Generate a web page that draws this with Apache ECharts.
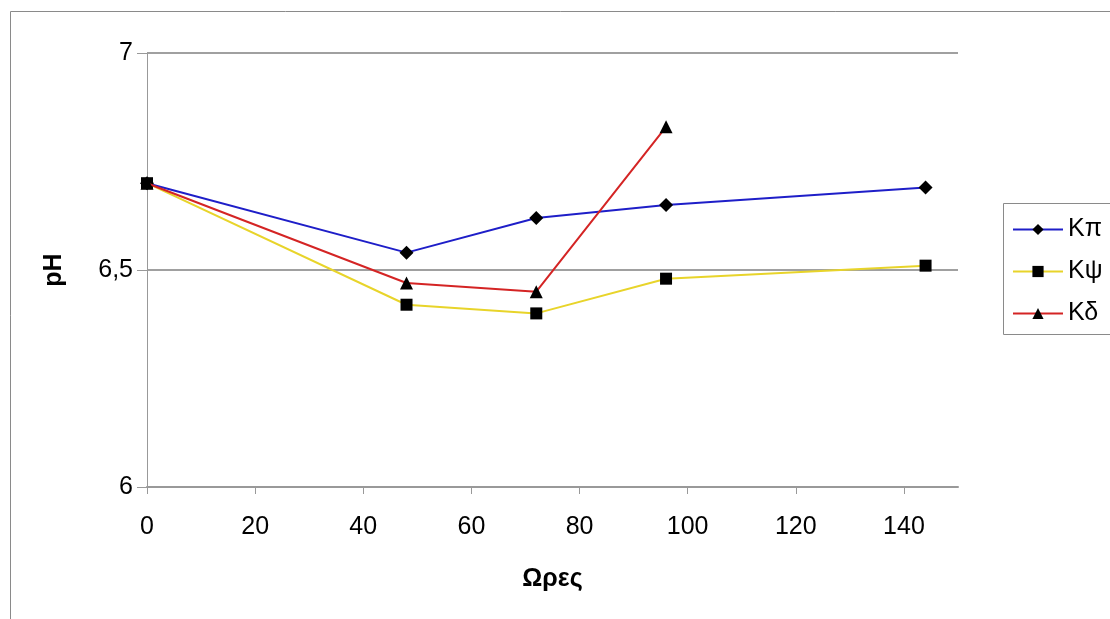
<!DOCTYPE html>
<html>
<head>
<meta charset="utf-8">
<script src="https://cdn.jsdelivr.net/npm/echarts@6/dist/echarts.min.js"></script>
<style>
html,body{margin:0;padding:0;background:#fff;}
#chart{width:1110px;height:619px;}
</style>
</head>
<body>
<div id="chart"></div>
<script>
// Hours (x) and pH values per series
const hours = [0, 48, 72, 96, 144];
const hoursKd = [0, 48, 72, 96];
const seriesNames = ['Κπ', 'Κψ', 'Κδ'];
const kPi = [6.70, 6.54, 6.62, 6.65, 6.69];
const kPsi = [6.70, 6.42, 6.40, 6.48, 6.51];
const kDelta = [6.70, 6.47, 6.45, 6.83];
const xTicks = [0, 20, 40, 60, 80, 100, 120, 140];
const yTicks = ['6', '6,5', '7'];

const pair = (xs, ys) => xs.map((x, i) => [x, ys[i]]);
const font = '"Liberation Sans", Arial, sans-serif';

const chart = echarts.init(document.getElementById('chart'), null, {renderer: 'canvas'});
chart.setOption({
  backgroundColor: '#ffffff',
  animation: false,
  textStyle: {fontFamily: font},
  grid: {left: 147, top: 53, right: 152, bottom: 132, containLabel: false},
  graphic: [
    {type: 'rect', z: -10, shape: {x: 10.5, y: 11.5, width: 1200, height: 700}, style: {fill: 'none', stroke: '#8a8a8a', lineWidth: 1}},
    {type: 'rect', z: -5, shape: {x: 1003.5, y: 203.5, width: 200, height: 131}, style: {fill: '#fff', stroke: '#8a8a8a', lineWidth: 1}}
  ],
  legend: {
    orient: 'vertical',
    left: 1003,
    top: 204,
    padding: [13, 10, 13, 9],
    itemWidth: 50,
    itemHeight: 14,
    itemGap: 17,
    textStyle: {fontSize: 25, color: '#000', fontFamily: font},
    data: seriesNames
  },
  xAxis: {
    type: 'value',
    min: 0, max: 150, interval: 20,
    name: 'Ωρες',
    nameLocation: 'middle',
    nameGap: 80,
    nameTextStyle: {fontSize: 25, fontWeight: 'bold', color: '#000', fontFamily: font},
    axisLine: {show: true, lineStyle: {color: '#999', width: 2}},
    axisTick: {show: true, inside: false, length: 7, customValues: xTicks, lineStyle: {color: '#999', width: 1}},
    axisLabel: {
      fontSize: 25, color: '#000', margin: 28, fontFamily: font,
      customValues: xTicks,
      formatter: v => String(v)
    },
    splitLine: {show: false}
  },
  yAxis: {
    type: 'value',
    min: 6, max: 7, interval: 0.5,
    name: 'pH',
    nameLocation: 'middle',
    nameRotate: 90,
    nameGap: 80,
    nameTextStyle: {fontSize: 25, fontWeight: 'bold', color: '#000', fontFamily: font},
    axisLine: {show: true, lineStyle: {color: '#999', width: 1}},
    axisTick: {show: true, inside: false, length: 10, lineStyle: {color: '#999', width: 1}},
    axisLabel: {
      fontSize: 25, color: '#000', margin: 14, fontFamily: font,
      formatter: v => yTicks[Math.round((v - 6) / 0.5)]
    },
    splitLine: {show: true, lineStyle: {color: '#a0a0a0', width: 2}}
  },
  series: [
    {
      name: seriesNames[0], type: 'line', data: pair(hours, kPi),
      symbol: 'diamond', symbolSize: 14,
      lineStyle: {color: '#1e1ec8', width: 2},
      itemStyle: {color: '#000', borderWidth: 0},
      color: '#1e1ec8', z: 4
    },
    {
      name: seriesNames[1], type: 'line', data: pair(hours, kPsi),
      symbol: 'rect', symbolSize: 12,
      lineStyle: {color: '#e8d42a', width: 2},
      itemStyle: {color: '#000', borderWidth: 0},
      color: '#e8d42a', z: 3
    },
    {
      name: seriesNames[2], type: 'line', data: pair(hoursKd, kDelta),
      symbol: 'triangle', symbolSize: 13,
      lineStyle: {color: '#d42424', width: 2},
      itemStyle: {color: '#000', borderWidth: 0},
      color: '#d42424', z: 5
    }
  ]
});
</script>
</body>
</html>
